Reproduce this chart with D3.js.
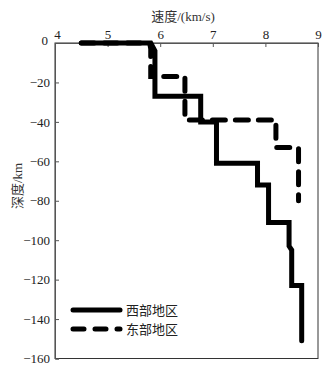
<!DOCTYPE html>
<html><head><meta charset="utf-8">
<script src="https://cdn.jsdelivr.net/npm/d3@7"></script>
<style>body{margin:0;background:#fff}</style>
</head><body>
<script>
const xTicks = [4,5,6,7,8,9];
const yTicks = [0,-20,-40,-60,-80,-100,-120,-140,-160];
const seriesNames = ["西部地区","东部地区"];
const westV = [4.5,5.82,5.9,5.9,6.77,6.77,7.07,7.07,7.85,7.85,8.06,8.06,8.45,8.45,8.5,8.5,8.69,8.69];
const westD = [0,0,-4,-27,-27,-40,-40,-61,-61,-72,-72,-91,-91,-103,-105,-123,-123,-151];
const eastV = [4.5,5.8,5.82,5.82,6.47,6.47,8.2,8.2,8.63,8.63];
const eastD = [0,0,-3,-17,-17,-39,-39,-53,-53,-80];

const W=336,H=367;
const svg=d3.select("body").append("svg").attr("width",W).attr("height",H);
const x=d3.scaleLinear().domain([4,9]).range([55,318]);
const y=d3.scaleLinear().domain([0,-160]).range([43,358.5]);
const font="'Liberation Serif','Times New Roman',serif";
const cjk="'Liberation Serif','Noto Sans CJK SC',serif";

// frame
svg.append("rect").attr("x",x(4)).attr("y",y(0)).attr("width",x(9)-x(4)).attr("height",y(-160)-y(0))
  .attr("fill","none").attr("stroke","#333").attr("stroke-width",1);

const xa=svg.append("g").attr("transform",`translate(0,${y(0)})`)
  .call(d3.axisTop(x).tickValues(xTicks).tickSize(-4).tickPadding(4).tickFormat(d3.format("d")));
const ya=svg.append("g").attr("transform",`translate(${x(4)},0)`)
  .call(d3.axisLeft(y).tickValues(yTicks).tickSize(-4).tickPadding(5).tickFormat(d=>d<0?"−"+Math.abs(d):d));
[xa,ya].forEach(a=>{
  a.selectAll("path,line").attr("stroke","#555");
  a.selectAll("text").attr("font-family",font).attr("font-size",13).attr("fill","#222");
});
xa.select(".tick text").attr("dx",2);
ya.select(".tick text").attr("dy","0.1em").attr("dx",-2);

svg.append("text").attr("x",183).attr("y",21).attr("text-anchor","middle")
  .attr("font-family",cjk).attr("font-size",13).attr("fill","#333").text("速度/(km/s)");
svg.append("text").attr("transform","translate(22,186) rotate(-90)").attr("text-anchor","middle")
  .attr("font-family",cjk).attr("font-size",13).attr("fill","#333").text("深度/km");

const line=d3.line().x(d=>x(d[0])).y(d=>y(d[1]));
const west=westV.map((v,i)=>[v,westD[i]]);
const east=eastV.map((v,i)=>[v,eastD[i]]);
svg.append("path").attr("d",line(east)).attr("fill","none").attr("stroke","#000")
  .attr("stroke-width",5).attr("stroke-dasharray","13,10").attr("stroke-linecap","round");
svg.append("path").attr("d",line(west)).attr("fill","none").attr("stroke","#000")
  .attr("stroke-width",5).attr("stroke-linecap","round");

// legend
const lg=svg.append("g");
[[310,null],[329,"11,11"]].forEach((r,i)=>{
  const l=lg.append("line").attr("x1",73).attr("x2",120).attr("y1",r[0]).attr("y2",r[0])
    .attr("stroke","#000").attr("stroke-width",5).attr("stroke-linecap","round");
  if(r[1]) l.attr("stroke-dasharray",r[1]);
  lg.append("text").attr("x",126).attr("y",r[0]).attr("dy","0.36em")
    .attr("font-family",cjk).attr("font-size",13).attr("fill","#222").text(seriesNames[i]);
});
</script>
</body></html>
